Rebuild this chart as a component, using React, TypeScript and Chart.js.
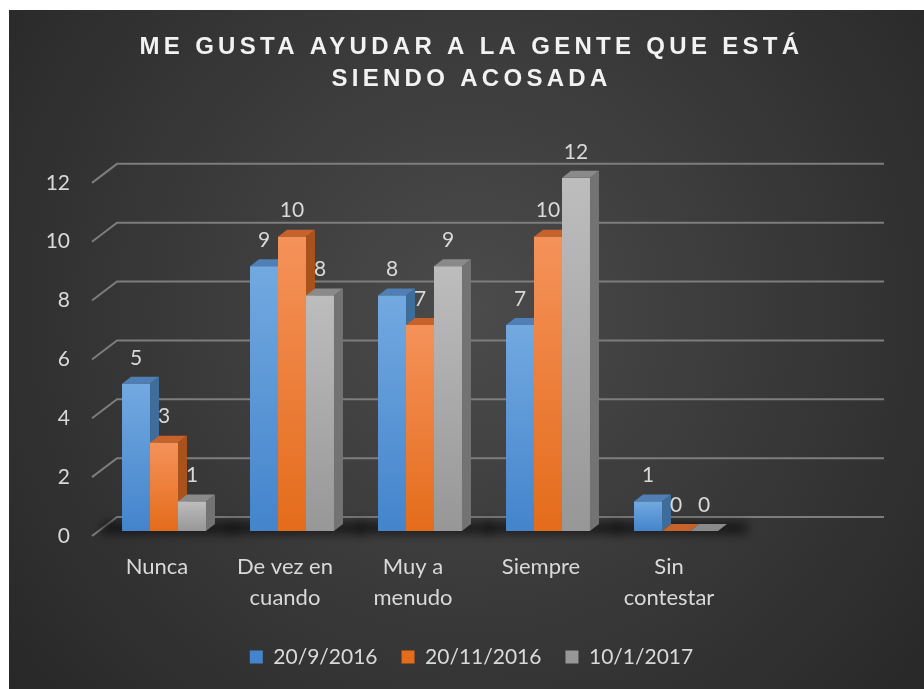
import React, { useEffect, useRef } from 'react';
import { Chart, registerables } from 'chart.js';

Chart.register(...registerables);

// ---- Data ----
const TITLE_LINES = ['ME GUSTA AYUDAR A LA GENTE QUE ESTÁ', 'SIENDO ACOSADA'];
const CATEGORIES: (string | string[])[] = ['Nunca', ['De vez en', 'cuando'], ['Muy a', 'menudo'], 'Siempre', ['Sin', 'contestar']];
const SERIES_NAMES = ['20/9/2016', '20/11/2016', '10/1/2017'];
const VALUES_SEP_2016 = [5, 9, 8, 7, 1];
const VALUES_NOV_2016 = [3, 10, 7, 10, 0];
const VALUES_JAN_2017 = [1, 8, 9, 12, 0];
const Y_TICKS = [0, 2, 4, 6, 8, 10, 12];

// ---- Styles ----
const FRONT_TOP = ['#72a9e0', '#f5925a', '#bdbdbd'];
const FRONT_BOTTOM = ['#4484cc', '#e46c1b', '#979797'];
const FRONT_MID = ['#5b9bd5', '#ed7d31', '#a5a5a5'];
const SIDE = ['#3e6d9c', '#a9521b', '#737373'];
const TOPFACE = ['#4f7fb4', '#c6622a', '#8a8a8a'];
const TEXT = '#d9d9d9';
const FONT = 'Lato, "Open Sans", sans-serif';
const DX = 9;
const DY = 7;

const decorPlugin = {
  id: 'decor',
  beforeDraw(chart: any) {
    const { ctx, width, height } = chart;
    ctx.save();
    const g = ctx.createRadialGradient(462, 300, 0, 462, 300, 640);
    g.addColorStop(0, '#4b4b4b');
    g.addColorStop(1, '#252525');
    ctx.fillStyle = g;
    ctx.fillRect(0, 0, width, height);
    ctx.restore();
    const tb = chart.titleBlock;
    if (tb && !tb.__spaced) {
      const orig = tb.draw.bind(tb);
      tb.draw = (...a: any[]) => {
        const c = chart.ctx;
        c.letterSpacing = '4.3px';
        orig(...a);
        c.letterSpacing = '0px';
      };
      tb.__spaced = true;
    }
  },
  beforeDatasetsDraw(chart: any) {
    const { ctx, chartArea, scales } = chart;
    const ys = scales.y;
    // gridlines (3D wall)
    ctx.save();
    ctx.strokeStyle = '#7d7d7d';
    ctx.lineWidth = 2;
    Y_TICKS.forEach((v) => {
      const yf = ys.getPixelForValue(v);
      ctx.beginPath();
      ctx.moveTo(chartArea.left - 8, yf + 5);
      ctx.lineTo(chartArea.left + 17, yf - 14);
      ctx.lineTo(chartArea.right + 144, yf - 14);
      ctx.stroke();
    });
    ctx.restore();
    // floor shadows
    const metas = chart.data.datasets.map((_: any, i: number) => chart.getDatasetMeta(i));
    const n = CATEGORIES.length;
    for (let i = 0; i < n; i++) {
      const first = metas[0].data[i];
      const last = metas[metas.length - 1].data[i];
      if (!first || !last) continue;
      const gl = first.x - first.width / 2;
      const gr = last.x + last.width / 2 + DX;
      const base = first.base;
      ctx.save();
      ctx.filter = 'blur(5px)';
      ctx.fillStyle = 'rgba(0,0,0,0.55)';
      ctx.fillRect(gl - 20, base - 9, gr - gl + 40, 12);
      ctx.restore();
    }
    // sides & tops
    metas.forEach((meta: any, di: number) => {
      meta.data.forEach((bar: any) => {
        const { x, y, base, width } = bar.getProps(['x', 'y', 'base', 'width'], true);
        const l = x - width / 2;
        const r = x + width / 2;
        ctx.save();
        ctx.fillStyle = SIDE[di];
        ctx.beginPath();
        ctx.moveTo(r, y);
        ctx.lineTo(r + DX, y - DY);
        ctx.lineTo(r + DX, base - DY);
        ctx.lineTo(r, base);
        ctx.closePath();
        ctx.fill();
        ctx.fillStyle = TOPFACE[di];
        ctx.beginPath();
        ctx.moveTo(l, y);
        ctx.lineTo(r, y);
        ctx.lineTo(r + DX, y - DY);
        ctx.lineTo(l + DX, y - DY);
        ctx.closePath();
        ctx.fill();
        ctx.restore();
      });
    });
  },
  afterDatasetsDraw(chart: any) {
    const { ctx } = chart;
    ctx.save();
    ctx.font = `21px ${FONT}`;
    ctx.fillStyle = TEXT;
    ctx.textAlign = 'center';
    ctx.textBaseline = 'middle';
    chart.data.datasets.forEach((ds: any, di: number) => {
      const meta = chart.getDatasetMeta(di);
      meta.data.forEach((bar: any, i: number) => {
        ctx.fillText(String(ds.data[i]), bar.x, bar.y - 26);
      });
    });
    ctx.restore();
  },
};

function frontFill(di: number) {
  return (c: any) => {
    const chart = c.chart;
    const { ctx, chartArea, scales } = chart;
    if (!chartArea || c.type !== 'data' || !scales.y) return FRONT_MID[di];
    const yTop = scales.y.getPixelForValue(c.raw);
    const yBot = scales.y.getPixelForValue(0);
    if (yBot - yTop < 1) return FRONT_MID[di];
    const g = ctx.createLinearGradient(0, yTop, 0, yBot);
    g.addColorStop(0, FRONT_TOP[di]);
    g.addColorStop(1, FRONT_BOTTOM[di]);
    return g;
  };
}

export default function App() {
  const ref = useRef<HTMLCanvasElement | null>(null);
  useEffect(() => {
    if (!ref.current) return;
    const seriesValues = [VALUES_SEP_2016, VALUES_NOV_2016, VALUES_JAN_2017];
    const chart = new Chart(ref.current, {
      type: 'bar',
      data: {
        labels: CATEGORIES,
        datasets: SERIES_NAMES.map((name, di) => ({
          label: name,
          data: seriesValues[di],
          backgroundColor: frontFill(di),
          borderWidth: 0,
          categoryPercentage: 0.656,
          barPercentage: 1,
        })),
      },
      options: {
        responsive: false,
        animation: false,
        devicePixelRatio: 1,
        layout: { padding: { bottom: 11.5 } },
        plugins: {
          title: {
            display: true,
            text: TITLE_LINES,
            color: '#f2f2f2',
            font: { family: '"Liberation Sans", Arial, sans-serif', size: 24, weight: 'bold', lineHeight: 1.32 },
            padding: { top: 22, bottom: 82.5 },
          },
          legend: {
            position: 'bottom',
            labels: {
              color: TEXT,
              font: { family: FONT, size: 21 },
              boxWidth: 13,
              boxHeight: 13,
              padding: 24,
            },
          },
          tooltip: { enabled: false },
        },
        scales: {
          x: {
            grid: { display: false, drawTicks: false },
            border: { display: false },
            ticks: {
              color: TEXT,
              font: { family: FONT, size: 22, lineHeight: 1.41 },
              padding: 20.5,
              labelOffset: -7,
              maxRotation: 0,
              autoSkip: false,
            },
            afterFit: (s: any) => { s.height = 91.5; },
          },
          y: {
            min: 0,
            max: 12,
            grid: { display: false, drawTicks: false },
            border: { display: false },
            ticks: {
              stepSize: 2,
              color: TEXT,
              font: { family: FONT, size: 21 },
              padding: 30,
              labelOffset: 5,
            },
            afterFit: (s: any) => { s.width = 91; },
          },
          y2: {
            position: 'right',
            grid: { display: false, drawTicks: false },
            border: { display: false },
            ticks: { display: false },
            afterFit: (s: any) => { s.width = 194; },
          },
        },
      } as any,
      plugins: [decorPlugin],
    });
    return () => chart.destroy();
  }, []);
  return (
    <div style={{ position: 'fixed', left: 9, top: 10, right: 0, bottom: 0, overflow: 'hidden', background: '#252525' }}>
      <canvas ref={ref} width={925} height={679} style={{ display: 'block', width: 925, height: 679 }} />
    </div>
  );
}
